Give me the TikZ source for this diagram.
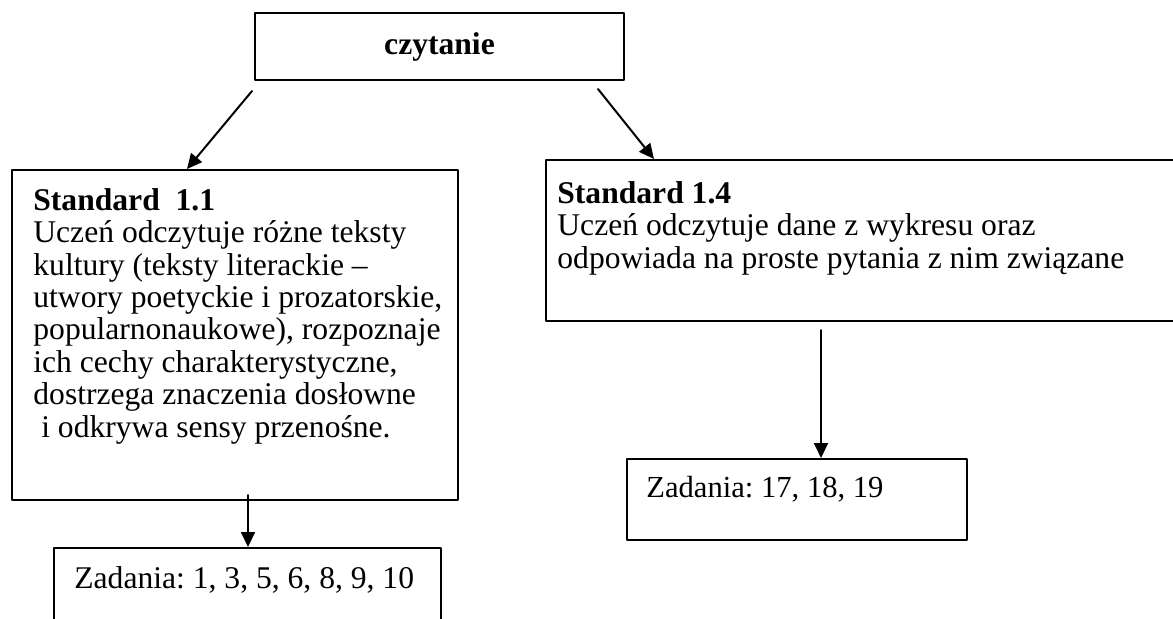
\documentclass[tikz,border=0pt]{standalone}
\usepackage{fontspec}
\setmainfont{Liberation Serif}
\frenchspacing
\usetikzlibrary{arrows.meta, fit}
\tikzset{>=latex}
\tikzset{every text node part/.style={align=left}}
\tikzset{
	box/.style={draw, line width=1pt, inner sep=0pt},
	boxtext/.style={anchor=north west, inner sep=0pt, font=\fontsize{15.8}{16.2}\selectfont},
	arr/.style={line width=1pt, -{Triangle[length=7.5pt, width=7pt]}}
}

\begin{document}
\begin{tikzpicture}[x=0.5pt, y=-0.5pt, line cap=round, line join=round]
	\useasboundingbox (0,0) rectangle (1173,618);
	
	% Top box
	\node[box, fit={(255,13) (624,80)},
		label={[font=\fontsize{15.8}{16.2}\selectfont\bfseries]center:czytanie}] (czyt) {};
	
	% Standard boxes
	\node[box, fit={(12,170) (458,500)}] (std11) {};
	\node[box, fit={(546,160) (1185,321)}] (std14) {};
	\node[boxtext] (txt11) at (33,188) {\textbf{Standard\ \ 1.1}\\
		Uczeń odczytuje różne teksty\\
		kultury (teksty literackie –\\
		utwory poetyckie i prozatorskie,\\
		popularnonaukowe), rozpoznaje\\
		ich cechy charakterystyczne,\\
		dostrzega znaczenia dosłowne\\
		\ i odkrywa sensy przenośne.};
	\node[boxtext] (txt14) at (557,181) {\textbf{Standard 1.4}\\
		Uczeń odczytuje dane z wykresu oraz\\
		odpowiada na proste pytania z nim związane};
	
	% Task boxes
	\node[box, fit={(54,548) (441,660)}] (zad1) {};
	\node[box, fit={(627,459) (967,540)}] (zad2) {};
	\node[boxtext] (txtz1) at (74,566) {Zadania: 1, 3, 5, 6, 8, 9, 10};
	\node[boxtext, font=\fontsize{15.3}{16.2}\selectfont] (txtz2) at (646,476) {Zadania: 17, 18, 19};
	
	% Arrows
	\draw[arr] ([shift={(-2,10)}]czyt.south west) -- ([shift={(176,0)}]std11.north west);
	\draw[arr] ([shift={(-27,8)}]czyt.south east) -- ([shift={(109,0)}]std14.north west);
	\draw[arr] ([shift={(237,-6)}]std11.south west) -- ([shift={(195,0)}]zad1.north west);
	\draw[arr] ([shift={(276,8)}]std14.south west) -- ([shift={(195,0)}]zad2.north west);
\end{tikzpicture}
\end{document}
